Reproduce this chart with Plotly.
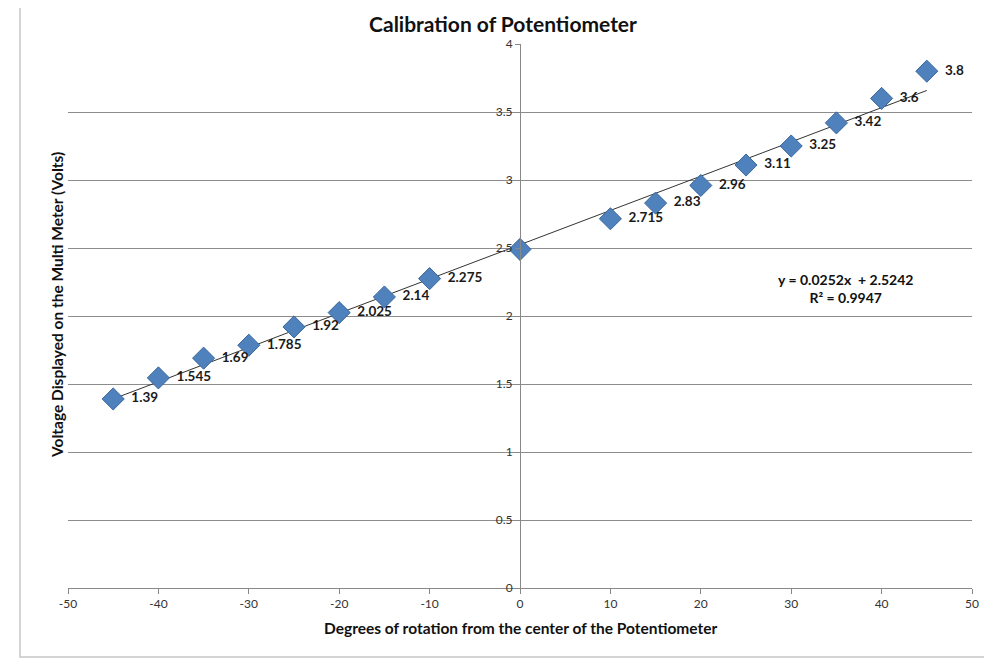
import plotly.graph_objects as go

degrees = [-45, -40, -35, -30, -25, -20, -15, -10, 0, 10, 15, 20, 25, 30, 35, 40, 45]
voltage = [1.39, 1.545, 1.69, 1.785, 1.92, 2.025, 2.14, 2.275, 2.49, 2.715, 2.83, 2.96, 3.11, 3.25, 3.42, 3.6, 3.8]
point_labels = ["1.39", "1.545", "1.69", "1.785", "1.92", "2.025", "2.14", "2.275", "",
                "2.715", "2.83", "2.96", "3.11", "3.25", "3.42", "3.6", "3.8"]
slope = 0.0252
intercept = 2.5242
r_squared = 0.9947
x_ticks = [-50, -40, -30, -20, -10, 0, 10, 20, 30, 40, 50]
x_tick_text = ["-50", "-40", "-30", "-20", "-10", "0", "10", "20", "30", "40", "50"]
y_ticks = [0, 0.5, 1, 1.5, 2, 2.5, 3, 3.5, 4]
y_tick_text = ["0", "0.5", "1", "1.5", "2", "2.5", "3", "3.5", "4"]

FONT = "Lato, Open Sans, sans-serif"

# plot area in window pixels: left 68, right 972, top 44, bottom 588
# (page body has an 8px margin, so figure margins are reduced by 8)
PW, PH = 904, 544

trend_x = [min(degrees), max(degrees)]
trend_y = [slope * v + intercept for v in trend_x]

fig = go.Figure()
fig.add_trace(go.Scatter(
    x=trend_x, y=trend_y, mode="lines",
    line=dict(color="#333333", width=1), hoverinfo="skip", showlegend=False))
fig.add_trace(go.Scatter(
    x=degrees, y=voltage, mode="markers+text",
    text=["  " + t if t else "" for t in point_labels], textposition="middle right",
    textfont=dict(family=FONT, size=13.5, color="#1a1a1a", weight="bold"),
    marker=dict(symbol="diamond", size=17, color="#4F81BD",
                line=dict(color="#3A679C", width=1)),
    showlegend=False))

fig.update_layout(
    width=992, height=661,
    margin=dict(l=60, r=28, t=36, b=81),
    paper_bgcolor="white", plot_bgcolor="white",
    font=dict(family=FONT, color="#333333"),
    title=dict(text="<b>Calibration of Potentiometer</b>", x=495 / 992, xref="container",
               y=1 - 17 / 661, yref="container", xanchor="center", yanchor="middle",
               font=dict(family=FONT, size=21, color="#111111")),
    xaxis=dict(range=[-50, 50], tickvals=x_ticks, ticktext=x_tick_text,
               showgrid=False, zeroline=False,
               showline=True, linecolor="#888888", linewidth=1,
               ticks="outside", ticklen=5, tickcolor="#888888",
               tickfont=dict(family=FONT, size=12, color="#333333")),
    yaxis=dict(range=[0, 4], tickvals=y_ticks, ticktext=y_tick_text,
               anchor="free", position=0.5,
               showgrid=True, gridcolor="#8c8c8c", gridwidth=1, zeroline=False,
               showline=True, linecolor="#888888", linewidth=1,
               ticks="outside", ticklen=5, tickcolor="#888888",
               tickfont=dict(family=FONT, size=12, color="#333333")),
)

fig.add_annotation(text="<b>Degrees of rotation from the center of the Potentiometer</b>",
                   xref="paper", yref="paper", x=(520 - 68) / PW, y=(588 - 628) / PH,
                   xanchor="center", yanchor="middle", showarrow=False,
                   font=dict(family=FONT, size=15.5, color="#111111"))
fig.add_annotation(text="<b>Voltage Displayed on the Multi Meter (Volts)</b>",
                   xref="paper", yref="paper", x=(57 - 68) / PW, y=(588 - 305) / PH,
                   xanchor="center", yanchor="middle", textangle=-90, showarrow=False,
                   font=dict(family=FONT, size=15.5, color="#111111"))
fig.add_annotation(text=f"<b>y = {slope}x  + {intercept}<br>R² = {r_squared}</b>",
                   xref="x", yref="y", x=36, y=2.2, showarrow=False, align="center",
                   font=dict(family=FONT, size=14, color="#111111"))

fig.add_shape(type="rect", xref="paper", yref="paper",
              x0=(20 - 68) / PW, x1=(990 - 68) / PW,
              y0=(588 - 657) / PH, y1=(588 - 5) / PH,
              line=dict(color="#c8c8c8", width=1.5), layer="below")

fig.write_html("out.html")
